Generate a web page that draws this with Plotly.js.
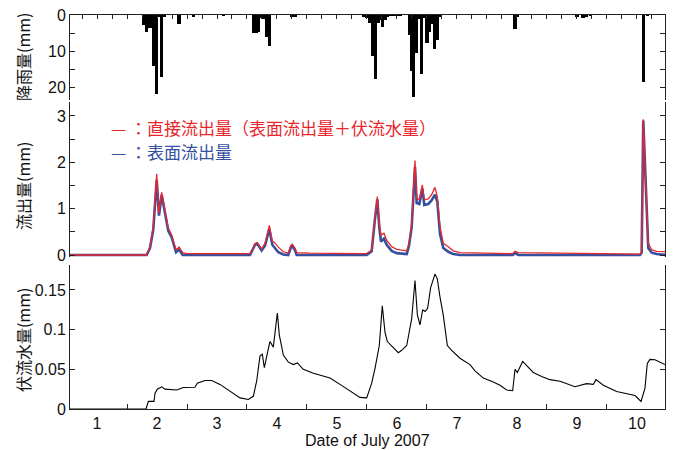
<!DOCTYPE html>
<html>
<head>
<meta charset="utf-8">
<script src="https://cdn.plot.ly/plotly-3.0.1.min.js"></script>
<style>html,body{margin:0;padding:0;background:#fff;}#chart{width:676px;height:450px;}</style>
</head>
<body>
<div id="chart"></div>
<script>
// time axis: day of July 2007 (1.0 = July 1, 00:00)
const rainT = [2.272,2.328,2.372,2.406,2.444,2.494,2.533,2.578,2.622,2.867,3.105,3.605,4.108,4.15,4.19,4.225,4.267,4.328,4.378,4.75,4.8,5.95,5.995,6.05,6.097,6.139,6.183,6.225,6.264,6.306,6.344,6.383,6.425,6.467,6.508,6.55,6.717,6.75,6.78,6.828,6.867,6.912,6.956,7.0,7.045,7.083,7.128,7.172,7.228,8.467,8.51,9.5,9.6,9.65,9.72,10.605,10.67];
const rainMM = [2.8,4.6,3.7,3.7,14.2,22.0,0.6,17.1,0.6,2.6,0.5,0.4,5.1,5.1,4.8,0.8,1.0,6.0,8.5,0.5,0.6,0.6,0.9,2.3,11.5,17.7,2.3,1.3,3.2,1.5,0.6,0.4,0.4,0.4,0.4,0.4,5.6,15.5,22.7,10.5,1.0,16.5,0.8,7.7,4.6,2.5,9.5,6.9,0.5,4.0,0.5,0.5,0.8,0.6,0.4,18.5,0.3];

const directT = [1.05,2.328,2.383,2.438,2.495,2.533,2.578,2.633,2.688,2.745,2.817,2.867,2.928,2.995,3.5,4.05,4.094,4.133,4.172,4.244,4.3,4.372,4.422,4.467,4.522,4.605,4.688,4.728,4.755,4.8,4.828,5.05,5.883,5.995,6.078,6.133,6.172,6.205,6.233,6.283,6.328,6.411,6.495,6.662,6.7,6.745,6.772,6.8,6.828,6.872,6.922,6.955,7.022,7.078,7.133,7.172,7.217,7.272,7.355,7.438,7.55,8.105,8.428,8.467,8.522,9.217,10.55,10.578,10.605,10.645,10.688,10.745,10.828,10.983];
const directQ = [0,0,0.18,0.61,1.75,0.90,1.35,0.97,0.58,0.43,0.11,0.17,0.05,0.03,0.035,0.03,0.12,0.25,0.27,0.13,0.25,0.64,0.30,0.26,0.17,0.07,0.04,0.2,0.23,0.15,0.05,0.04,0.03,0.03,0.11,0.83,1.26,0.68,0.43,0.47,0.32,0.18,0.12,0.09,0.25,0.68,1.26,2.04,1.22,1.20,1.51,1.19,1.21,1.30,1.46,1.26,0.61,0.25,0.18,0.09,0.05,0.04,0.03,0.08,0.05,0.04,0.02,0.05,2.93,1.55,0.25,0.11,0.08,0.07];

const surfaceT = [1.05,2.328,2.383,2.438,2.495,2.533,2.578,2.633,2.688,2.745,2.817,2.867,2.928,4.05,4.094,4.133,4.172,4.244,4.3,4.372,4.422,4.467,4.522,4.605,4.688,4.728,4.755,4.8,4.828,5.995,6.078,6.133,6.172,6.205,6.233,6.283,6.328,6.411,6.495,6.662,6.7,6.745,6.772,6.8,6.828,6.872,6.922,6.955,7.022,7.078,7.133,7.172,7.217,7.272,7.355,7.438,7.55,8.428,8.467,8.522,10.55,10.578,10.605,10.645,10.688,10.745,10.828,10.983];
const surfaceQ = [0,0,0.15,0.55,1.62,0.85,1.30,0.90,0.52,0.38,0.06,0.12,0,0,0.1,0.22,0.24,0.10,0.2,0.56,0.22,0.15,0.06,0.01,0,0.15,0.2,0.1,0,0,0.08,0.78,1.2,0.6,0.29,0.35,0.22,0.09,0.04,0.02,0.2,0.6,1.2,1.9,1.12,1.10,1.43,1.08,1.1,1.18,1.3,1.15,0.45,0.15,0.07,0.02,0,0,0.04,0,0,0.05,2.9,1.5,0.15,0.05,0.02,0];

const baseT = [1.05,2.317,2.356,2.45,2.467,2.506,2.578,2.633,2.828,2.939,3.133,3.172,3.3,3.411,3.55,3.717,3.883,4.022,4.105,4.161,4.217,4.256,4.289,4.339,4.383,4.439,4.506,4.539,4.606,4.689,4.772,4.839,4.939,5.106,5.328,5.383,5.55,5.772,5.883,5.995,6.078,6.133,6.205,6.255,6.3,6.339,6.439,6.522,6.578,6.662,6.745,6.8,6.839,6.883,6.928,6.967,7.011,7.061,7.133,7.172,7.217,7.272,7.339,7.411,7.55,7.633,7.717,7.8,7.939,8.105,8.217,8.328,8.428,8.467,8.506,8.595,8.689,8.772,8.911,9.05,9.217,9.467,9.661,9.772,9.817,9.939,10.161,10.328,10.467,10.567,10.633,10.672,10.717,10.8,10.967];
const baseQ = [0,0,0.0096,0.0096,0.02,0.025,0.028,0.025,0.024,0.027,0.0275,0.0325,0.036,0.036,0.031,0.022,0.014,0.012,0.016,0.035,0.067,0.069,0.052,0.07,0.085,0.078,0.121,0.093,0.068,0.059,0.056,0.058,0.050,0.045,0.040,0.039,0.031,0.02,0.0146,0.014,0.0325,0.051,0.080,0.130,0.097,0.085,0.077,0.071,0.074,0.080,0.114,0.162,0.119,0.106,0.125,0.123,0.127,0.153,0.170,0.164,0.141,0.118,0.080,0.074,0.064,0.060,0.056,0.048,0.039,0.034,0.030,0.024,0.023,0.050,0.046,0.060,0.053,0.046,0.041,0.037,0.035,0.028,0.032,0.031,0.037,0.030,0.022,0.019,0.017,0.0096,0.026,0.0575,0.0625,0.062,0.056];

const dayLabels = ['1','2','3','4','5','6','7','8','9','10'];
const dayLabelPos = [1.5,2.5,3.5,4.5,5.5,6.5,7.5,8.5,9.5,10.5];
const dayBounds = [2,3,4,5,6,7,8,9,10];
const quarterDays = [];
for (let d = 1.25; d < 11; d += 0.25) quarterDays.push(d);

const legendRed = '— ：直接流出量（表面流出量＋伏流水量）';
const legendBlue = '— ：表面流出量';
const yTitles = ['降雨量(mm)', '流出量(mm)', '伏流水量(mm)'];
const xTitle = 'Date of July 2007';

const FONT = 'Liberation Sans, Arial, Noto Sans CJK JP, sans-serif';
const CJK = 'Noto Sans CJK JP, Liberation Sans, sans-serif';
const AX = '#222';
const RED = '#e8262c';
const BLUE = '#34509f';
const XR = [1.05, 10.967];

const traces = [
  {type:'bar', x:rainT, y:rainMM, width:0.052, xaxis:'x2', yaxis:'y',
   marker:{color:'#000', line:{width:0}}, hoverinfo:'skip'},
  {type:'scatter', mode:'lines', x:surfaceT, y:surfaceQ, xaxis:'x3', yaxis:'y2',
   line:{color:BLUE, width:2.6}, hoverinfo:'skip'},
  {type:'scatter', mode:'lines', x:directT, y:directQ, xaxis:'x3', yaxis:'y2',
   line:{color:RED, width:1.3}, hoverinfo:'skip'},
  {type:'scatter', mode:'lines', x:baseT, y:baseQ, xaxis:'x', yaxis:'y3',
   line:{color:'#000', width:1.1}, hoverinfo:'skip'}
];

const commonY = {showgrid:false, zeroline:false, showline:true, linecolor:AX, linewidth:1,
  mirror:'ticks', ticks:'inside', ticklen:5, tickcolor:AX, tickfont:{family:FONT, size:16, color:'#111'}};

const layout = {
  width:676, height:450,
  margin:{l:70, r:11, t:15, b:41},
  paper_bgcolor:'#fff', plot_bgcolor:'#fff',
  showlegend:false, bargap:0,
  font:{family:FONT, color:'#111'},
  xaxis:{domain:[0,1], anchor:'y3', range:XR, showgrid:false, zeroline:false,
    showline:true, linecolor:AX, linewidth:1,
    tickmode:'array', tickvals:dayLabelPos, ticktext:dayLabels, ticks:'', 
    tickfont:{family:FONT, size:16, color:'#111'},
    minor:{tickmode:'array', tickvals:dayBounds, ticks:'inside', ticklen:5, tickcolor:AX, showgrid:false}},
  xaxis2:{domain:[0,1], anchor:'y', side:'top', range:XR, showgrid:false, zeroline:false,
    showline:true, linecolor:AX, linewidth:1, showticklabels:false,
    tickmode:'array', tickvals:quarterDays, ticks:'inside', ticklen:4, tickcolor:AX},
  xaxis3:{domain:[0,1], anchor:'y2', range:XR, visible:false},
  yaxis:Object.assign({}, commonY, {domain:[0.7843,1], anchor:'x2', range:[23.6,0],
    tickmode:'array', tickvals:[0,10,20],
    minor:{tickmode:'array', tickvals:[5,15], ticks:'inside', ticklen:5, tickcolor:AX}}),
  yaxis2:Object.assign({}, commonY, {domain:[0.3858,0.7792], anchor:'x3', range:[-0.043,3.30],
    tickmode:'array', tickvals:[0,1,2,3],
    minor:{tickmode:'array', tickvals:[0.5,1.5,2.5], ticks:'inside', ticklen:5, tickcolor:AX}}),
  yaxis3:Object.assign({}, commonY, {domain:[0,0.3655], anchor:'x', range:[0,0.1815],
    tickmode:'array', tickvals:[0,0.05,0.1,0.15], ticktext:['0','0.05','0.1','0.15']}),
  annotations:[
    {xref:'paper', yref:'paper', x:0.0655, y:0.7132, xanchor:'left', yanchor:'middle', showarrow:false,
     text:legendRed, font:{family:CJK, size:17, color:RED}},
    {xref:'paper', yref:'paper', x:0.0655, y:0.6523, xanchor:'left', yanchor:'middle', showarrow:false,
     text:legendBlue, font:{family:CJK, size:17, color:BLUE}},
    {xref:'paper', yref:'paper', x:-0.079, y:0.8934, xanchor:'center', yanchor:'middle', showarrow:false,
     textangle:-90, text:yTitles[0], font:{family:CJK, size:16, color:'#111'}},
    {xref:'paper', yref:'paper', x:-0.079, y:0.566, xanchor:'center', yanchor:'middle', showarrow:false,
     textangle:-90, text:yTitles[1], font:{family:CJK, size:16, color:'#111'}},
    {xref:'paper', yref:'paper', x:-0.079, y:0.175, xanchor:'center', yanchor:'middle', showarrow:false,
     textangle:-90, text:yTitles[2], font:{family:CJK, size:16, color:'#111'}},
    {xref:'paper', yref:'paper', x:0.5, y:-0.0787, xanchor:'center', yanchor:'middle', showarrow:false,
     text:xTitle, font:{family:FONT, size:16, color:'#111'}}
  ]
};

Plotly.newPlot('chart', traces, layout, {staticPlot:true, displayModeBar:false});
</script>
</body>
</html>
